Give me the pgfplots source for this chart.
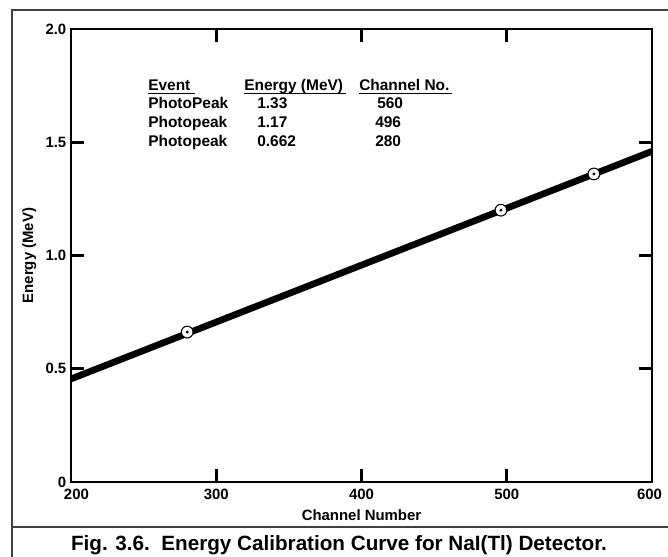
\documentclass[border=0pt]{standalone}
\usepackage{fontspec}
\setmainfont{Liberation Sans}
\usepackage{pgfplots}
\pgfplotsset{compat=1.18}

\begin{document}
\begin{tikzpicture}[x=0.75pt,y=0.75pt]
\clip (0,0) rectangle (668,557);
% outer frame and caption box
\draw[line width=1.5pt, black!75] (12,-20) rectangle (690,547);
\draw[line width=1.5pt, black!75] (12,30) -- (690,30);
\node[font=\bfseries\fontsize{15.5}{17}\selectfont, anchor=base] at (339,6)
  {Fig. 3.6.\ \ Energy Calibration Curve for NaI(Tl) Detector.};

\begin{axis}[
  at={(53.25pt,56.25pt)}, anchor=south west,
  scale only axis, width=435.75pt, height=339.75pt,
  xmin=200, xmax=600, ymin=0, ymax=2,
  xtick={200,300,400,500,600},
  xticklabels={\makebox[0pt][l]{\hspace{-5.25pt}200},300,400,500,\makebox[0pt][r]{600\hspace{-7.5pt}}},
  ytick={0,0.5,1,1.5,2},
  yticklabels={0,0.5,1.0,1.5,2.0},
  tick align=inside, major tick length=9.5pt,
  tick style={line width=2pt, black},
  axis line style={line width=1.1pt},
  /pgf/number format/assume math mode=true,
  ticklabel style={font=\bfseries\fontsize{11.2}{13}\selectfont},
  xticklabel style={yshift=-1.5pt},
  label style={font=\bfseries\fontsize{11.2}{13}\selectfont},
  xlabel={Channel Number},
  ylabel={Energy (MeV)},
  xlabel style={yshift=-1pt},
]
\addplot[line width=5pt, black] coordinates {(200,0.455) (600,1.46)};
\addplot[only marks, mark=*, mark size=4.4pt,
  mark options={fill=white, draw=black, line width=0.8pt}]
  coordinates {(280,0.662) (496,1.2) (560,1.36)};
\addplot[only marks, mark=*, mark size=0.9pt, black]
  coordinates {(280,0.662) (496,1.2) (560,1.36)};
\end{axis}

% data table in the plot
\begin{scope}[every node/.style={anchor=base west, inner sep=0pt,
    font=\bfseries\fontsize{11.6}{13}\selectfont}]
\node at (148,466) {Event};
\node at (244,466) {Energy (MeV)};
\node at (359,466) {Channel No.};
\draw[line width=0.8pt] (148,463.5) -- (195,463.5);
\draw[line width=0.8pt] (244,463.5) -- (346,463.5);
\draw[line width=0.8pt] (359,463.5) -- (452,463.5);
\node at (148,448) {PhotoPeak};
\node at (148,429) {Photopeak};
\node at (148,410) {Photopeak};
\node at (257,448) {1.33};
\node at (257,429) {1.17};
\node at (257,410) {0.662};
\node at (377,448) {560};
\node at (375,429) {496};
\node at (375,410) {280};
\end{scope}
\end{tikzpicture}
\end{document}
